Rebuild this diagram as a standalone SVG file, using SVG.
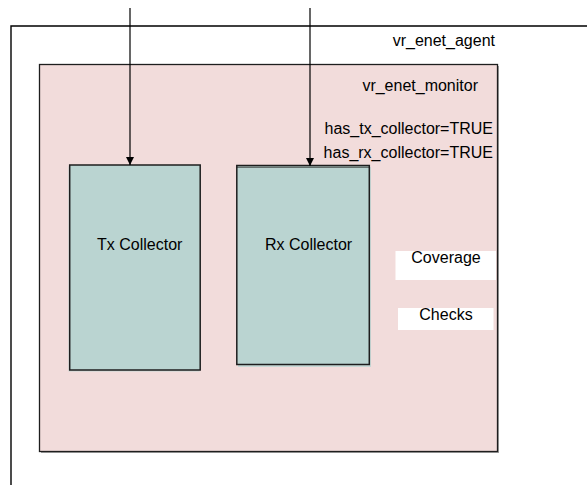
<svg xmlns="http://www.w3.org/2000/svg" width="587" height="485" viewBox="0 0 587 485">
  <style>
    .lbl { font-family: "Liberation Sans", Arial, sans-serif; font-size: 16px; fill: #000; }
    .block { fill: #bad4d1; stroke: #1e1e1e; stroke-width: 1.5; }
    .wire { stroke: #000; stroke-width: 1.2; fill: none; }
  </style>
  <defs>
    <marker id="arrow" markerWidth="8" markerHeight="8" refX="8" refY="4" orient="auto" markerUnits="userSpaceOnUse">
      <path d="M0,0 L8,4 L0,8 Z" fill="#000"/>
    </marker>
  </defs>

  <rect width="587" height="485" fill="#fff"/>

  <!-- agent container, open to the right and bottom -->
  <g id="vr_enet_agent">
    <path d="M11,490 L11,26 L590,26" fill="none" stroke="#000" stroke-width="1.4"/>
    <text class="lbl" x="495" y="46" text-anchor="end">vr_enet_agent</text>
  </g>

  <!-- monitor -->
  <g id="vr_enet_monitor">
    <rect x="41" y="66" width="458" height="387" fill="#a0a0a0"/>
    <rect x="39.5" y="64.5" width="458" height="387" fill="#f2dcdb" stroke="#1e1e1e" stroke-width="1.3"/>
    <text class="lbl" x="478" y="91" text-anchor="end">vr_enet_monitor</text>
    <text class="lbl" x="493" y="134" text-anchor="end">has_tx_collector=TRUE</text>
    <text class="lbl" x="493" y="158" text-anchor="end">has_rx_collector=TRUE</text>
  </g>

  <g id="tx_collector">
    <rect x="68.5" y="166.5" width="131" height="205" fill="#c8d8d6"/>
    <rect class="block" x="69.7" y="165" width="130.5" height="205"/>
    <text class="lbl" x="97" y="250">Tx Collector</text>
  </g>

  <g id="rx_collector">
    <rect x="238" y="167" width="133" height="200" fill="#c8d8d6"/>
    <rect class="block" x="236.8" y="165.5" width="132.5" height="199"/>
    <line x1="236.8" y1="167.2" x2="369.3" y2="167.2" stroke="#1e1e1e" stroke-width="0.8"/>
    <text class="lbl" x="265" y="250">Rx Collector</text>
  </g>

  <g id="coverage">
    <rect x="395.5" y="251" width="100.5" height="29" fill="#fff"/>
    <text class="lbl" x="446" y="263" text-anchor="middle">Coverage</text>
  </g>

  <g id="checks">
    <rect x="398" y="308" width="95.5" height="22" fill="#fff"/>
    <text class="lbl" x="446" y="320" text-anchor="middle">Checks</text>
  </g>

  <g id="connectors">
    <line class="wire" x1="130" y1="8" x2="130" y2="165" marker-end="url(#arrow)"/>
    <line class="wire" x1="310" y1="8" x2="310" y2="166" marker-end="url(#arrow)"/>
  </g>
</svg>
